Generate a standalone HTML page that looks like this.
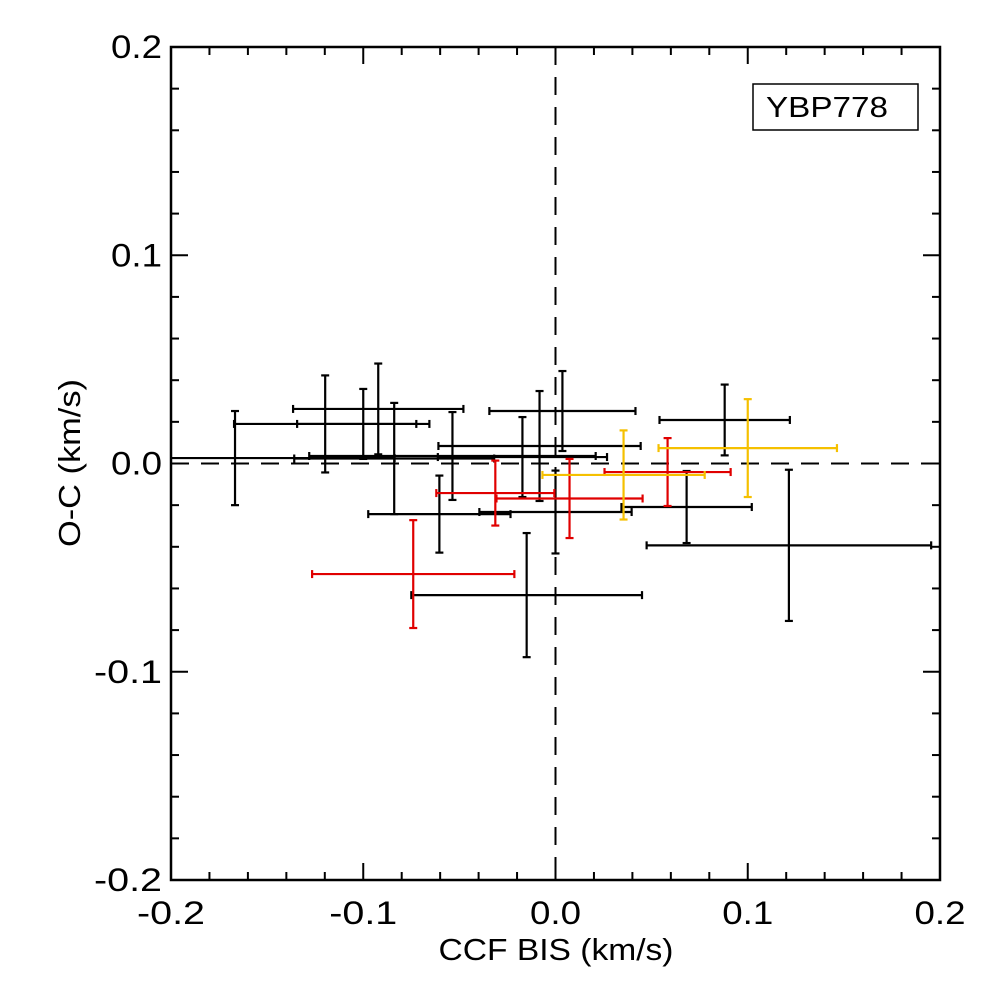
<!DOCTYPE html>
<html><head><meta charset="utf-8"><style>
html,body{margin:0;padding:0;background:#fff;}
svg{display:block;font-family:"Liberation Sans",Arial,sans-serif;}
</style></head><body>
<svg id="chart" width="986" height="987" viewBox="0 0 986 987" xmlns="http://www.w3.org/2000/svg">
<rect width="986" height="987" fill="#fff"/>
<g id="grid"></g>
<g id="marks"></g>
<g id="axes"></g>
<rect x="753" y="84" width="165" height="46" fill="#fff" stroke="#000" stroke-width="1.5"/>
<text x="766" y="117" font-size="29" textLength="122" lengthAdjust="spacingAndGlyphs">YBP778</text>
<text x="556" y="960" font-size="31" text-anchor="middle" textLength="235" lengthAdjust="spacingAndGlyphs">CCF BIS (km/s)</text>
<text x="0" y="0" font-size="31" text-anchor="middle" textLength="168" lengthAdjust="spacingAndGlyphs" transform="translate(80,463) rotate(-90)">O-C (km/s)</text>
</svg>
<script>
const blackX=[-0.1667,-0.1198,-0.1000,-0.0922,-0.0839,-0.0536,-0.0083,-0.0172,0.0036,0.0880,0.0682,0.1214,0.0000,-0.0604,-0.0150];
const blackY=[0.0026,0.0190,0.0190,0.0262,0.0024,0.0036,0.0084,0.0031,0.0252,0.0209,-0.0209,-0.0393,-0.0233,-0.0243,-0.0632];
const blackXErr=[0.083,0.0474,0.0344,0.0443,0.052,0.0745,0.0526,0.044,0.038,0.0339,0.0339,0.074,0.0396,0.037,0.060];
const blackYErr=[0.0226,0.0233,0.0168,0.0218,0.0267,0.0211,0.0264,0.0192,0.0192,0.017,0.0173,0.0363,0.0199,0.0185,0.0298];
const redX=[0.0583,0.0073,-0.0313,-0.0740];
const redY=[-0.0041,-0.0168,-0.0142,-0.0531];
const redXErr=[0.0328,0.038,0.0307,0.0526];
const redYErr=[0.0163,0.019,0.0156,0.0259];
const yellowX=[0.1000,0.0354];
const yellowY=[0.0074,-0.0055];
const yellowXErr=[0.0464,0.0422];
const yellowYErr=[0.0235,0.0214];
const tickVals=[-0.2,-0.1,0.0,0.1,0.2];
const tickLabels=["-0.2","-0.1","0.0","0.1","0.2"];

const L=171,R=940,T=47,B=880;
const sx=v=>L+(v+0.2)/0.4*(R-L);
const sy=v=>B-(v+0.2)/0.4*(B-T);
const NS="http://www.w3.org/2000/svg";
function mk(tag,attrs,parent){const e=document.createElementNS(NS,tag);for(const k in attrs)e.setAttribute(k,attrs[k]);parent.appendChild(e);return e;}
const marks=document.getElementById('marks'),axes=document.getElementById('axes'),grid=document.getElementById('grid');
const defs=mk('defs',{},document.getElementById('chart'));
const cp=mk('clipPath',{id:'pc'},defs);mk('rect',{x:L,y:T,width:R-L,height:B-T},cp);
marks.setAttribute('clip-path','url(#pc)');
let z1=mk('line',{x1:sx(0),y1:T,x2:sx(0),y2:B,stroke:'#000','stroke-width':2,'stroke-dasharray':'18,12'},grid);


let z2=mk('line',{x1:L,y1:sy(0),x2:R,y2:sy(0),stroke:'#000','stroke-width':2,'stroke-dasharray':'18,12'},grid);


function series(xs,ys,xe,ye,color,name){
  for(let i=0;i<xs.length;i++){
    const g=mk('g',{stroke:color,'stroke-width':2.2,fill:'none'},marks);
    
    
    const cx=sx(xs[i]),cy=sy(ys[i]),x0=sx(xs[i]-xe[i]),x1=sx(xs[i]+xe[i]),y0=sy(ys[i]+ye[i]),y1=sy(ys[i]-ye[i]);
    mk('line',{x1:x0,y1:cy,x2:x1,y2:cy},g);
    mk('line',{x1:cx,y1:y0,x2:cx,y2:y1},g);
    mk('line',{x1:x0,y1:cy-4,x2:x0,y2:cy+4},g);
    mk('line',{x1:x1,y1:cy-4,x2:x1,y2:cy+4},g);
    mk('line',{x1:cx-4,y1:y0,x2:cx+4,y2:y0},g);
    mk('line',{x1:cx-4,y1:y1,x2:cx+4,y2:y1},g);
  }
}
series(blackX,blackY,blackXErr,blackYErr,'#000','black');
series(redX,redY,redXErr,redYErr,'#e00000','red');
series(yellowX,yellowY,yellowXErr,yellowYErr,'#f5c000','yellow');
const fr=mk('rect',{x:L,y:T,width:R-L,height:B-T,fill:'none',stroke:'#000','stroke-width':2.5},axes);


for(let k=0;k<=20;k++){
  const v=-0.2+k*0.02, major=(k%5===0), len=major?17:8;
  const x=sx(v),y=sy(v);
  mk('line',{x1:x,y1:B,x2:x,y2:B-len,stroke:'#000','stroke-width':2},axes);
  mk('line',{x1:x,y1:T,x2:x,y2:T+len,stroke:'#000','stroke-width':2},axes);
  mk('line',{x1:L,y1:y,x2:L+len,y2:y,stroke:'#000','stroke-width':2},axes);
  mk('line',{x1:R,y1:y,x2:R-len,y2:y,stroke:'#000','stroke-width':2},axes);
}
tickVals.forEach((v,i)=>{
  const w=tickLabels[i].length===4?68:51;
  const tx=mk('text',{x:sx(v),y:924,'font-size':32,'text-anchor':'middle',textLength:w,lengthAdjust:'spacingAndGlyphs'},axes);
  tx.textContent=tickLabels[i];
  
  
  const ty=mk('text',{x:162,y:sy(v)+11,'font-size':32,'text-anchor':'end',textLength:w,lengthAdjust:'spacingAndGlyphs'},axes);
  ty.textContent=tickLabels[i];
  
  
});
</script>
</body></html>
